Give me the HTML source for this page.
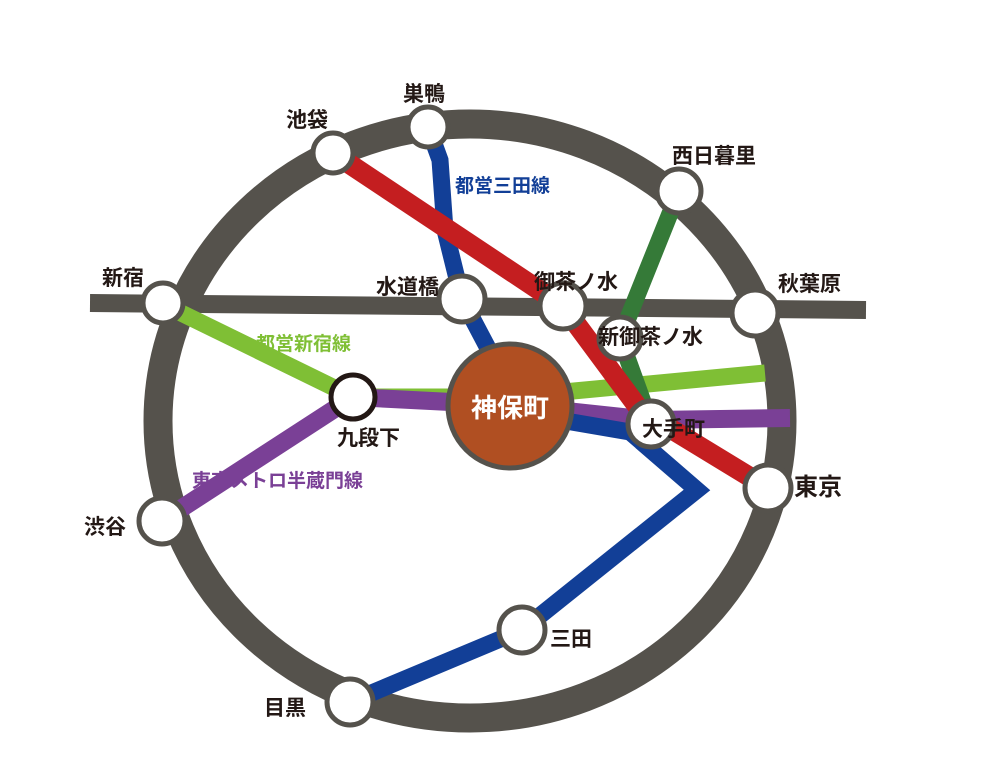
<!DOCTYPE html>
<html><head><meta charset="utf-8"><style>
html,body{margin:0;padding:0;background:#fff;}
svg text{font-family:"Liberation Sans","Noto Sans CJK JP",sans-serif;font-weight:bold;}
</style></head><body>
<svg width="1004" height="757" viewBox="0 0 1004 757" xmlns="http://www.w3.org/2000/svg">
<rect width="1004" height="757" fill="#fff"/>
<text x="455" y="192" font-size="19" fill="#123f97">都営三田線</text>
<text x="256" y="350" font-size="19" fill="#7fbf35">都営新宿線</text>
<text x="192" y="487" font-size="19" fill="#7a4096">東京メトロ半蔵門線</text>
<ellipse cx="470" cy="421" rx="312" ry="297" fill="none" stroke="#55524c" stroke-width="29"/>
<polyline points="90,303 866,310" fill="none" stroke="#55524c" stroke-width="18"/>
<polyline points="175,310 353,397 510,397 765,373" fill="none" stroke="#7fbf35" stroke-width="17"/>
<polyline points="162,521 353,397 510,405 651,420 790,418" fill="none" stroke="#7a4096" stroke-width="18"/>
<polyline points="428,127 440,160 445,230 462,299 510,390" fill="none" stroke="#123f97" stroke-width="17"/>
<polyline points="560,420 630,432 697,490 522,630 350,702" fill="none" stroke="#123f97" stroke-width="17"/>
<polyline points="679,191 620,338 651,424" fill="none" stroke="#357a38" stroke-width="17"/>
<polyline points="333,153 563,306 640,410 768,488" fill="none" stroke="#c41e20" stroke-width="20"/>
<g fill="#fff" stroke="#55524c" stroke-width="5">
<circle cx="333" cy="153" r="20"/>
<circle cx="428" cy="127" r="20"/>
<circle cx="679" cy="191" r="22"/>
<circle cx="163" cy="303" r="20"/>
<circle cx="462" cy="299" r="23"/>
<circle cx="563" cy="306" r="23"/>
<circle cx="755" cy="313" r="23"/>
<circle cx="620" cy="338" r="21"/>
<circle cx="651" cy="424" r="23"/>
<circle cx="768" cy="488" r="23"/>
<circle cx="162" cy="521" r="23"/>
<circle cx="522" cy="630" r="23"/>
<circle cx="350" cy="702" r="23"/>
</g>
<circle cx="353" cy="397" r="22" fill="#fff" stroke="#231815" stroke-width="5"/>
<circle cx="510" cy="406" r="62" fill="#b04f22" stroke="#55524c" stroke-width="5"/>
<text x="510" y="417" font-size="26" fill="#fff" text-anchor="middle">神保町</text>
<g font-size="21" fill="#231815">
<text x="286" y="127">池袋</text>
<text x="403" y="101">巣鴨</text>
<text x="672" y="163">西日暮里</text>
<text x="102" y="285">新宿</text>
<text x="376" y="294">水道橋</text>
<text x="534" y="289">御茶ノ水</text>
<text x="778" y="291">秋葉原</text>
<text x="598" y="344">新御茶ノ水</text>
<text x="337" y="445">九段下</text>
<text x="642" y="436">大手町</text>
<text x="794" y="495" font-size="24">東京</text>
<text x="84" y="534">渋谷</text>
<text x="550" y="646">三田</text>
<text x="264" y="715">目黒</text>
</g>
</svg>
</body></html>
